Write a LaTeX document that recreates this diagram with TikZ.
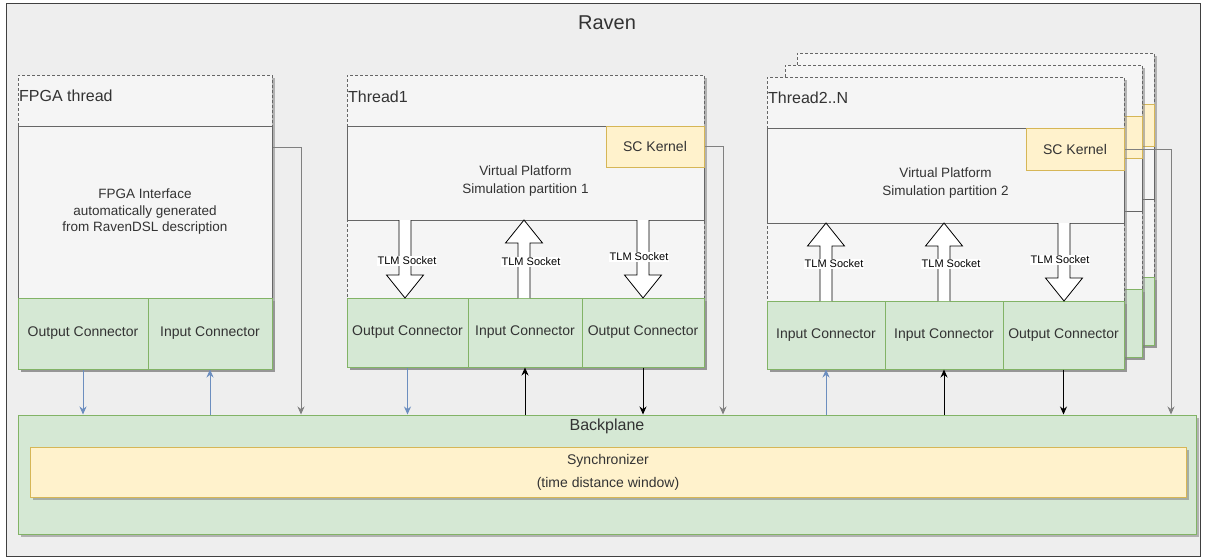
\documentclass[tikz,border=0pt]{standalone}
\usepackage{fontspec}
\setmainfont{Liberation Sans}
\usepackage{tikz}
\usetikzlibrary{arrows.meta,shadows}
\definecolor{ravenbg}{HTML}{EEEEEE}
\definecolor{ravenline}{HTML}{404040}
\definecolor{boxbg}{HTML}{F5F5F5}
\definecolor{boxline}{HTML}{666666}
\definecolor{conbg}{HTML}{D5E8D4}
\definecolor{conline}{HTML}{82B366}
\definecolor{kernbg}{HTML}{FFF2CC}
\definecolor{kernline}{HTML}{D6B656}
\definecolor{bluearr}{HTML}{6C8EBF}
\definecolor{greyarr}{HTML}{808080}
\definecolor{txt}{HTML}{333333}
\newcommand{\tlmarrow}[4]{%
\draw[sockarr] (#1-6,#2) -- (#1-6,#3) -- (#1-18.5,#3) -- (#1,#4) -- (#1+18.5,#3) -- (#1+6,#3) -- (#1+6,#2);}

\begin{document}
\begin{tikzpicture}[x=1pt,y=-1pt,
shad/.style={drop shadow={shadow xshift=2.5pt,shadow yshift=-2.5pt,fill=gray,opacity=0.55}},
rbox/.style={draw,line width=1pt,inner sep=0pt,text=txt},
thread/.style={rbox,draw=boxline,fill=boxbg,dash pattern=on 3pt off 2pt,shad},
vpbox/.style={rbox,draw=boxline,fill=boxbg,font=\fontsize{13.5}{16.5}\selectfont,align=center},
conbox/.style={rbox,draw=conline,fill=conbg,shad,font=\fontsize{14}{17}\selectfont},
kernbox/.style={rbox,draw=kernline,fill=kernbg,font=\fontsize{14}{17}\selectfont},
head/.style={anchor=west,text=txt,inner sep=0pt,font=\fontsize{16}{19}\selectfont},
sock/.style={fill=white,inner sep=1pt,text=black,font=\fontsize{11}{13}\selectfont},
sockarr/.style={draw=black,line width=0.8pt,fill=white,line join=miter},
garr/.style={draw=greyarr,line width=1pt,-{Stealth[length=8pt,width=7pt]}},
barr/.style={draw=bluearr,line width=1pt,-{Stealth[length=8pt,width=7pt]}},
karr/.style={draw=black,line width=1pt,-{Stealth[length=8pt,width=7pt]}}]
\useasboundingbox (0,0) rectangle (1208,558);
\node[rbox,draw=ravenline,fill=ravenbg,minimum width=1194pt,minimum height=553pt] (raven) at (603,279.5) {};
\node[text=txt,font=\fontsize{20}{24}\selectfont] (title) at (607,23) {Raven};

\foreach \dx/\dy/\k in {30/-24/c,18/-12/b}{
\begin{scope}[shift={(\dx,\dy)}]
\node[thread,minimum width=357pt,minimum height=292pt] (back\k) at (945.5,223) {};
\node[vpbox,minimum width=357pt,minimum height=95pt] (backvp\k) at (945.5,175.5) {};
\node[kernbox,minimum width=98pt,minimum height=42pt] (backsc\k) at (1075,149) {};
\node[conbox,minimum width=357pt,minimum height=68pt] (backcon\k) at (945.5,335) {};
\end{scope}}

\node[conbox,minimum width=1178pt,minimum height=119pt] (backplane) at (607,474.5) {};
\node[text=txt,font=\fontsize{16}{19}\selectfont] (bptitle) at (607,426) {Backplane};
\node[conbox,draw=kernline,fill=kernbg,align=center,minimum width=1156pt,minimum height=50pt] (sync) at (608,472) {Synchronizer\\[6pt](time distance window)};

\node[thread,minimum width=254pt,minimum height=294pt] (fpga) at (145,222) {};
\node[head] (fpgatitle) at (19,96) {FPGA thread};
\node[vpbox,minimum width=254pt,minimum height=172pt] (fpgaif) at (145,212) {FPGA Interface\\automatically generated\\from RavenDSL description};
\node[conbox,minimum width=130pt,minimum height=71pt] (fout) at (83,333.5) {Output Connector};
\node[conbox,minimum width=124pt,minimum height=71pt] (fin) at (210,333.5) {Input Connector};

\node[thread,minimum width=357pt,minimum height=292pt] (thread1) at (525.5,221) {};
\node[head] (t1title) at (348,97) {Thread1};
\node[vpbox,minimum width=357pt,minimum height=94pt] (vp1) at (525.5,173) {};
\node[vpbox,draw=none,fill=none] (vp1text) at (525.5,181.5) {Virtual Platform\\[1.5pt]Simulation partition 1};
\node[kernbox,minimum width=98pt,minimum height=41pt] (sck1) at (655,146.5) {SC Kernel};
\node[conbox,minimum width=121pt,minimum height=69pt] (c11) at (407.5,332.5) {Output Connector};
\node[conbox,minimum width=114pt,minimum height=69pt] (c12) at (525,332.5) {Input Connector};
\node[conbox,minimum width=122pt,minimum height=69pt] (c13) at (643,332.5) {Output Connector};
\tlmarrow{405}{220}{275}{298}
\tlmarrow{524}{298}{243}{220}
\tlmarrow{643}{220}{275}{298}
\node[sock] (s11) at (407,261) {TLM Socket};
\node[sock] (s12) at (531,262) {TLM Socket};
\node[sock] (s13) at (639,257) {TLM Socket};

\node[thread,minimum width=357pt,minimum height=292pt] (thread2) at (945.5,223) {};
\node[head] (t2title) at (768,98) {Thread2..N};
\node[vpbox,minimum width=357pt,minimum height=95pt] (vp2) at (945.5,175.5) {};
\node[vpbox,draw=none,fill=none] (vp2text) at (945.5,183) {Virtual Platform\\[1.5pt]Simulation partition 2};
\node[kernbox,minimum width=98pt,minimum height=42pt] (sck2) at (1075,149) {SC Kernel};
\node[conbox,minimum width=118pt,minimum height=68pt] (c21) at (826,335) {Input Connector};
\node[conbox,minimum width=118pt,minimum height=68pt] (c22) at (944,335) {Input Connector};
\node[conbox,minimum width=121pt,minimum height=68pt] (c23) at (1063.5,335) {Output Connector};
\tlmarrow{826}{301}{246}{223}
\tlmarrow{944}{301}{246}{223}
\tlmarrow{1064}{223}{278}{301}
\node[sock] (s21) at (834,264) {TLM Socket};
\node[sock] (s22) at (951,264) {TLM Socket};
\node[sock] (s23) at (1060,260) {TLM Socket};

\draw[garr] (fpgaif.east |- 0,147) -| (backplane.north -| 301,0);
\draw[garr] (sck1.east) -| (backplane.north -| 723,0);
\draw[garr] (sck2.east) -| (backplane.north -| 1171,0);
\draw[barr] (fout.south) -- (fout.south |- backplane.north);
\draw[barr] (fin.south |- backplane.north) -- (fin.south);
\draw[barr] (c11.south) -- (c11.south |- backplane.north);
\draw[karr] (c12.south |- backplane.north) -- (c12.south);
\draw[karr] (c13.south) -- (c13.south |- backplane.north);
\draw[barr] (c21.south |- backplane.north) -- (c21.south);
\draw[karr] (c22.south |- backplane.north) -- (c22.south);
\draw[karr] (c23.south) -- (c23.south |- backplane.north);
\end{tikzpicture}
\end{document}
